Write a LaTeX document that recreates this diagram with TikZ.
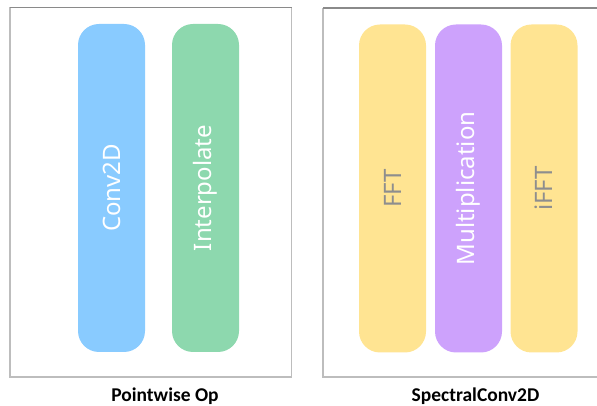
\documentclass[tikz,border=0pt]{standalone}
\usepackage{fontspec}
\setmainfont{Noto Sans}
\newfontfamily\captionfont{Carlito}
\definecolor{barblue}{HTML}{89CBFF}
\definecolor{bargreen}{HTML}{8DD8AE}
\definecolor{baryellow}{HTML}{FFE492}
\definecolor{barpurple}{HTML}{CDA2FC}
\definecolor{textgray}{HTML}{8E8E8E}
\definecolor{frametop}{HTML}{8A8A8A}
\definecolor{frameside}{HTML}{BDBDBD}
\begin{document}
\begin{tikzpicture}[x=1pt,y=1pt,
  bar/.style={rectangle, rounded corners=21pt, rotate=90,
    minimum width=328pt, minimum height=67pt, inner sep=0pt,
    font=\fontsize{24}{29}\selectfont},
  caption/.style={font=\captionfont\bfseries\fontsize{19.5}{23}\selectfont, text=black},
  frameedge/.style={line width=1.2pt}]
\useasboundingbox (0,0) rectangle (597,406);
% frames around the two groups
\draw[frameedge, frameside] (10,398.5) -- (10,29) -- (291.5,29) -- (291.5,398.5);
\draw[frameedge, frametop] (10,398.5) -- (291.5,398.5);
\draw[frameedge, frameside] (323,398) -- (323,29) -- (597,29);
\draw[frameedge, frametop] (323,398) -- (597,398);
% pointwise branch
\node[bar, fill=barblue, text=white] (conv) at (111.5,218) {Conv2D};
\node[bar, fill=bargreen, text=white] (interp) at (205.5,218) {Interpolate};
% spectral branch
\node[bar, fill=baryellow, text=textgray] (fft) at (392.5,217.5) {FFT};
\node[bar, fill=barpurple, text=white] (mult) at (468.5,217.5) {Multiplication};
\node[bar, fill=baryellow, text=textgray] (ifft) at (544,217.5) {iFFT};
% captions
\node[caption] (pw) at (165,9.5) {Pointwise Op};
\node[caption] (sc) at (475.5,9.5) {SpectralConv2D};
\end{tikzpicture}
\end{document}
